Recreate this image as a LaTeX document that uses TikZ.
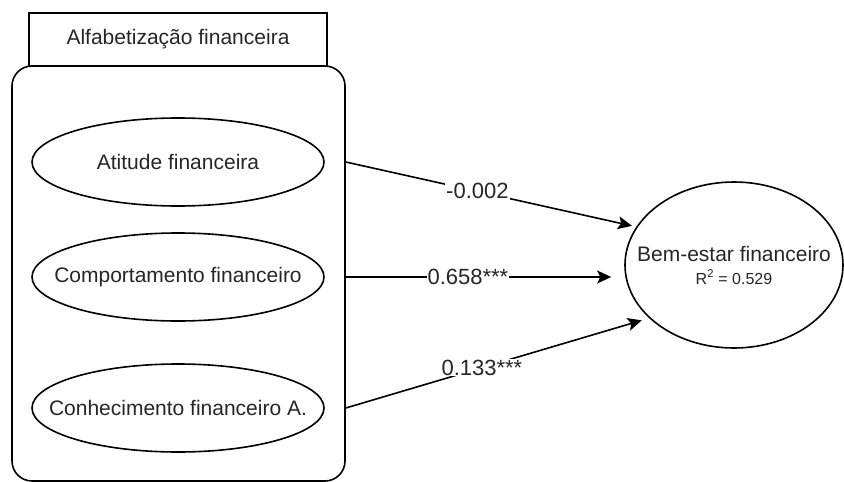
\documentclass[tikz,border=0pt]{standalone}
\usepackage{fontspec}
\setmainfont{Liberation Sans}
\usetikzlibrary{shapes.geometric, arrows.meta}
\begin{document}
\begin{tikzpicture}[x=1pt, y=-1pt, >={Stealth[length=14pt, width=13pt, inset=3pt]}, line width=1.6pt,
          font=\fontsize{21}{25}\selectfont, text=black!85,
          grpbox/.style={draw, rounded corners=20pt, minimum width=333pt, minimum height=415pt},
          titlebox/.style={draw, fill=white, minimum width=298pt, minimum height=53pt},
          var/.style={draw, ellipse, inner sep=0pt, minimum width=292pt, minimum height=88pt},
          outvar/.style={draw, ellipse, inner sep=0pt, minimum width=218pt, minimum height=166pt},
          coef/.style={pos=0.46, fill=white, inner sep=1pt, font=\fontsize{22}{26}\selectfont}]
        \useasboundingbox (0,0) rectangle (844,482);
        \node[grpbox] (grp) at (178.5,273.5) {};
        \node[titlebox] (tit) at (178,39.5) {Alfabetização financeira};
        \node[var, label=center:{Atitude financeira}] (att) at (178,162) {};
        \node[var, label=center:{Comportamento financeiro}] (comp) at (178,277) {};
        \node[var, label=center:{Conhecimento financeiro A.}] (conh) at (178,408) {};
        \node[outvar, label={[align=center]center:{Bem-estar financeiro\\[-2pt]
          {\fontsize{16}{19}\selectfont R\textsuperscript{2} = 0.529}}}] (bem) at (734,265) {};
        \draw[->] (att.east -| grp.east) -- node[coef] {-0.002} ([shift={(-4pt,1.5pt)}]bem.159);
        \draw[->] (comp.east -| grp.east) -- node[coef] {0.658***} ([xshift=-13pt]comp.east -| bem.west);
        \draw[->] (conh.east -| grp.east) -- node[coef] {0.133***} ([shift={(-6pt,-3.5pt)}]bem.211);
      \end{tikzpicture}
\end{document}
